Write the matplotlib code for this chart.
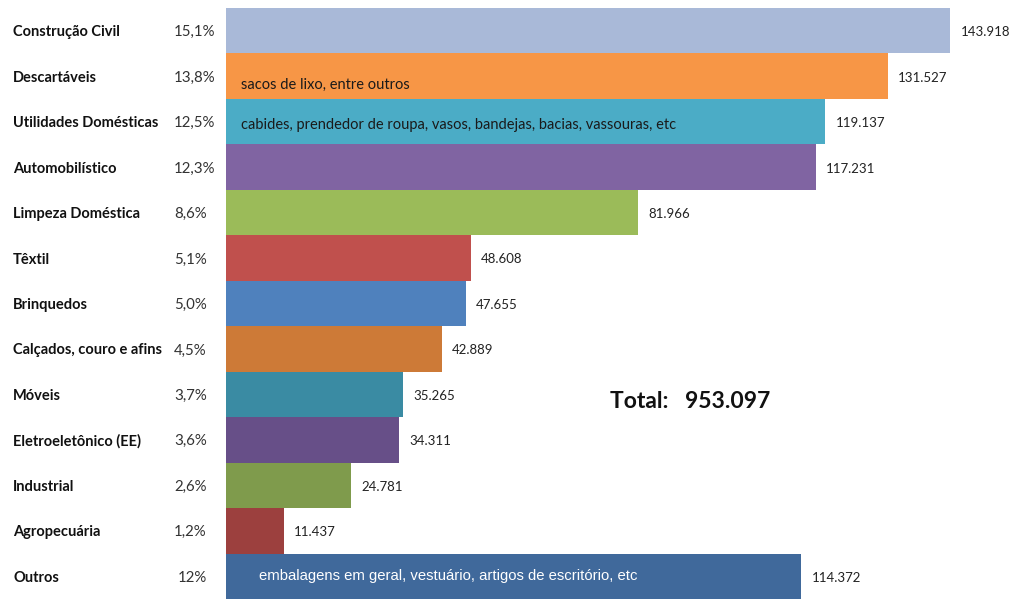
import matplotlib
matplotlib.use("Agg")
import matplotlib.pyplot as plt

categories = ["Construção Civil", "Descartáveis", "Utilidades Domésticas", "Automobilístico",
              "Limpeza Doméstica", "Têxtil", "Brinquedos", "Calçados, couro e afins",
              "Móveis", "Eletroeletônico (EE)", "Industrial", "Agropecuária", "Outros"]
percents = ["15,1%", "13,8%", "12,5%", "12,3%", "8,6%", "5,1%", "5,0%", "4,5%",
            "3,7%", "3,6%", "2,6%", "1,2%", "12%"]
values = [143918, 131527, 119137, 117231, 81966, 48608, 47655, 42889,
          35265, 34311, 24781, 11437, 114372]
value_labels = ["143.918", "131.527", "119.137", "117.231", "81.966", "48.608", "47.655",
                "42.889", "35.265", "34.311", "24.781", "11.437", "114.372"]
colors = ["#A9B9D8", "#F79646", "#4BACC6", "#8064A2", "#9BBB59", "#C0504D", "#4F81BD",
          "#CD7A37", "#3A8BA3", "#674F88", "#7F9B4C", "#9C403E", "#40699B"]
notes = {1: "sacos de lixo, entre outros",
         2: "cabides, prendedor de roupa, vasos, bandejas, bacias, vassouras, etc",
         12: "embalagens em geral, vestuário, artigos de escritório, etc"}
total_label = "Total:   953.097"

W, H = 1013, 612
fig = plt.figure(figsize=(W / 100, H / 100), dpi=100)
ax = fig.add_axes([226 / W, (H - 599) / H, (W - 226) / W, 591 / H])
xmax = values[0] * (W - 226) / (950 - 226)
ax.set_xlim(0, xmax)
ax.set_ylim(len(values) - 0.5, -0.5)
ax.axis("off")

ypos = list(range(len(values)))
ax.barh(ypos, values, height=1.0, color=colors, edgecolor="none")

font = "Lato"
for i, (v, lab) in enumerate(zip(values, value_labels)):
    ax.annotate(lab, (v, i), xytext=(7.5, -1), textcoords="offset points",
                ha="left", va="center", fontsize=9.5, color="#222222", family=font)

note_dy = {1: -6.5, 2: -2.5, 12: 0}
for i, txt in notes.items():
    if i == 12:
        ax.annotate(txt, (0, i), xytext=(23.5, 0), textcoords="offset points",
                    ha="left", va="center", fontsize=10.7, color="white",
                    family="Liberation Sans")
    else:
        ax.annotate(txt, (0, i), xytext=(10.5, note_dy[i]), textcoords="offset points",
                    ha="left", va="center", fontsize=10.5, color="#1a1a1a", family=font)

for i, (c, p) in enumerate(zip(categories, percents)):
    yf = ax.transData.transform((0, i))[1] - 1.5
    fy = yf / (fig.get_figheight() * fig.dpi)
    fig.text(13 / W, fy, c, ha="left", va="center", fontsize=10.5, fontweight="bold",
             color="#111111", family=font)
    px = 178 if p == "12%" else 174
    fig.text(px / W, fy, p, ha="left", va="center", fontsize=10.8, color="#333333",
             family=font)

fig.text(610 / W, (H - 402) / H, total_label, ha="left", va="center", fontsize=16.5,
         fontweight="bold", color="#111111", family=font)

fig.savefig("out.png", dpi=100, facecolor="white")
